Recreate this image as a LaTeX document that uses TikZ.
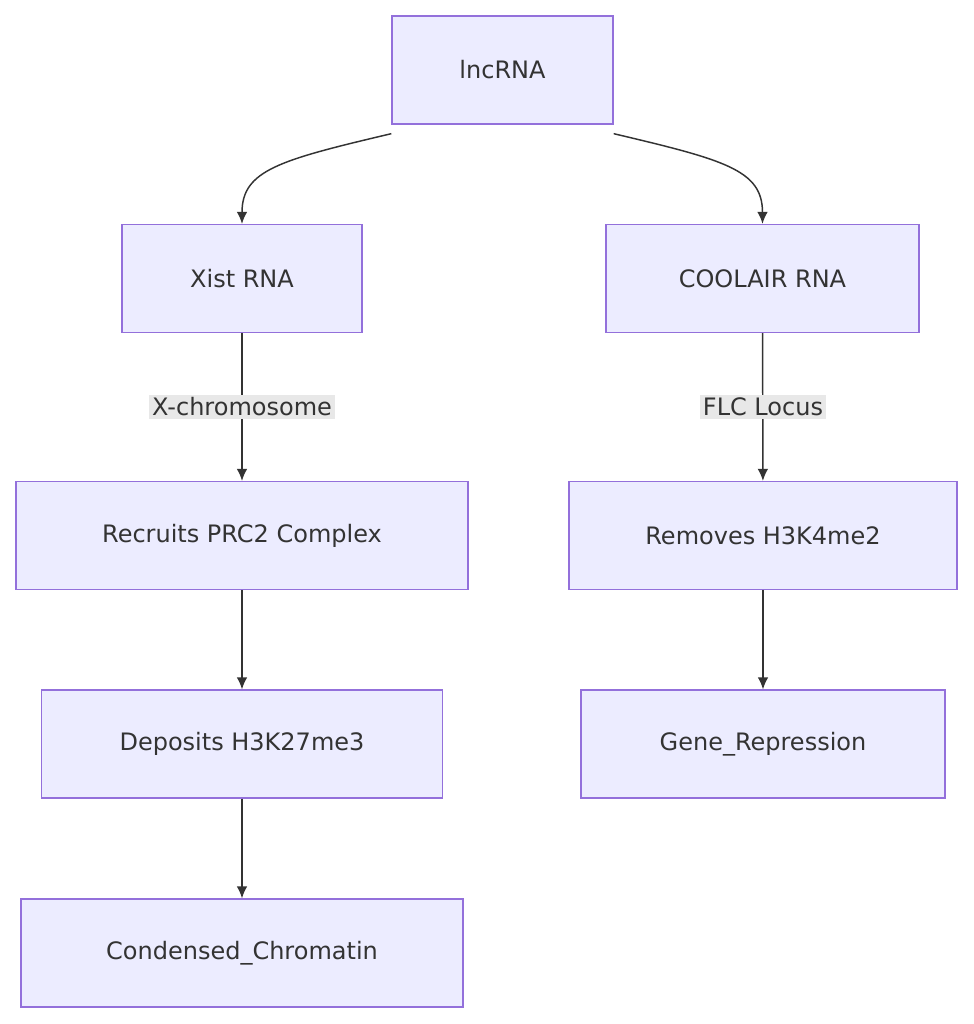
\documentclass[tikz,border=0pt]{standalone}
\usepackage{fontspec}
\setmainfont{DejaVu Sans}
\usetikzlibrary{arrows.meta}
\definecolor{boxfill}{HTML}{ECECFF}
\definecolor{boxline}{HTML}{9370DB}
\definecolor{edge}{HTML}{333333}
\definecolor{lblfill}{HTML}{E8E8E8}
\tikzset{every picture/.style={line width=0.75pt}}
\tikzset{
  box/.style={draw=boxline, fill=boxfill, line width=1pt, minimum height=81pt, inner sep=0pt, text=edge, font=\fontsize{18}{20}\selectfont},
  lbl/.style={fill=lblfill, inner sep=2pt, text=edge, font=\fontsize{18}{20}\selectfont},
  arr/.style={draw=edge, line width=1.1pt, -{Latex[length=9pt,width=8pt]}}
}
\begin{document}
\begin{tikzpicture}[x=0.75pt,y=0.75pt,yscale=-1,xscale=1]
\useasboundingbox (0,0) rectangle (974,1024);

% Nodes
\node [box, minimum width=165.75pt] (lnc) at (502.5,70) {lncRNA};
\node [box, minimum width=180pt] (xist) at (242,278.5) {Xist RNA};
\node [box, minimum width=234.75pt] (cool) at (762.5,278.5) {COOLAIR RNA};
\node [box, minimum width=339pt] (recr) at (242,535.5) {Recruits PRC2 Complex};
\node [box, minimum width=291pt] (remv) at (763,535.5) {Removes H3K4me2};
\node [box, minimum width=300.75pt] (depo) at (242,744) {Deposits H3K27me3};
\node [box, minimum width=273pt] (gene) at (763,744) {Gene\_Repression};
\node [box, minimum width=331.5pt] (cond) at (242,953) {Condensed\_Chromatin};

% Curved edges
\draw [arr] ([yshift=6.75pt]lnc.south west) .. controls (280,160) and (242,170) .. (xist.north);
\draw [arr] ([yshift=6.75pt]lnc.south east) .. controls (725,160) and (762.5,170) .. (cool.north);

% Straight edges
\draw [arr] (xist) -- (recr);
\draw [arr] (cool) -- (remv);
\draw [arr] (recr) -- (depo);
\draw [arr] (remv) -- (gene);
\draw [arr] (depo) -- (cond);

% Edge labels
\node [lbl] (xlbl) at (242,407) {X-chromosome};
\node [lbl] (flbl) at (763,407) {FLC Locus};

\end{tikzpicture}
\end{document}
